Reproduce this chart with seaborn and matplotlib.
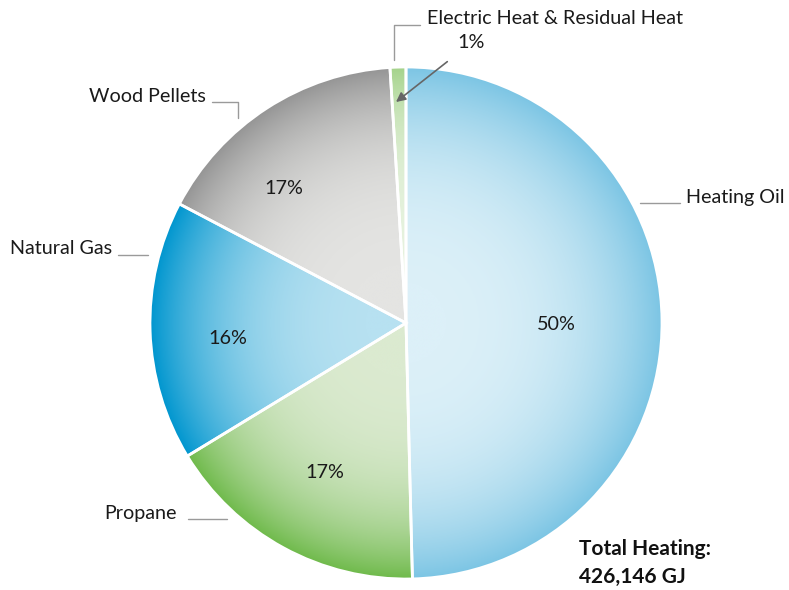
import numpy as np
import matplotlib
matplotlib.use("Agg")
import matplotlib.pyplot as plt
import seaborn as sns

# Heating energy mix (share of total)
sources = ["Heating Oil", "Propane", "Natural Gas", "Wood Pellets",
           "Electric Heat & Residual Heat"]
shares = [49.6, 16.7, 16.4, 16.3, 1.0]
pct_labels = ["50%", "17%", "16%", "17%", "1%"]
total_label = "Total Heating:\n426,146 GJ"

# light (centre) / dark (rim) colour per slice
light_cols = ["#dcf0f8", "#dbead0", "#b7e1f1", "#e4e4e2", "#e6f2de"]
dark_cols = ["#7cc5e4", "#6fba4b", "#0096cf", "#959595", "#a5d38b"]
gamma = [3.0, 3.6, 3.0, 3.8, 4.0]

sns.set_theme(style="white")
plt.rcParams["font.family"] = ["Lato", "DejaVu Sans"]

fig = plt.figure(figsize=(7.89, 5.90), dpi=100)
ax = fig.add_axes([0, 0, 1, 1])

cx, cy, R = 406, 323, 256
wedges, _ = ax.pie(shares, startangle=270, counterclock=True,
                   center=(cx, cy), radius=R,
                   wedgeprops=dict(edgecolor="white", linewidth=2))
ax.set_xlim(0, 789)
ax.set_ylim(590, 0)
ax.set_aspect("auto")
ax.axis("off")

# radial gradient fill for each slice
n = 600
xs = np.linspace(cx - R, cx + R, n)
ys = np.linspace(cy - R, cy + R, n)
gx, gy = np.meshgrid(xs, ys)
rr = np.clip(np.hypot(gx - cx, gy - cy) / R, 0, 1)
for w, lc, dc, g in zip(wedges, light_cols, dark_cols, gamma):
    cmap = sns.blend_palette([lc, dc], as_cmap=True)
    img = ax.imshow(rr ** g, cmap=cmap, vmin=0, vmax=1,
                    extent=(cx - R, cx + R, cy + R, cy - R),
                    interpolation="bilinear", zorder=2)
    img.set_clip_path(w)
    w.set_facecolor("none")
    w.set_zorder(3)
ax.set_xlim(0, 789)
ax.set_ylim(590, 0)

txt = "#1a1a1a"
line_c = "#9a9a9a"
fs = 14.2

# percentage labels inside slices
for lab, (x, y) in zip(pct_labels[:4], [(556, 325), (325, 472), (228, 339), (284, 188)]):
    ax.text(x, y, lab, ha="center", va="center", fontsize=fs, color=txt, zorder=5)

# outside labels with leader lines
ax.plot([640, 680], [203, 203], color=line_c, lw=1)
ax.text(686, 198, sources[0], ha="left", va="center", fontsize=fs, color=txt)

ax.plot([118, 148], [255, 255], color=line_c, lw=1)
ax.text(112, 248, sources[2], ha="right", va="center", fontsize=fs, color=txt)

ax.plot([188, 227], [519, 519], color=line_c, lw=1)
ax.text(177, 513, sources[1], ha="right", va="center", fontsize=fs, color=txt)

ax.plot([212, 238, 238], [102, 102, 118], color=line_c, lw=1)
ax.text(206, 97, sources[3], ha="right", va="center", fontsize=fs, color=txt)

ax.plot([420, 394, 394], [25, 25, 60], color=line_c, lw=1)
ax.text(427, 18, sources[4], ha="left", va="center", fontsize=fs, color=txt)
ax.annotate(pct_labels[4], xy=(396, 102), xytext=(471, 43),
            ha="center", va="center", fontsize=fs, color=txt,
            arrowprops=dict(arrowstyle="-|>", color="#666666", lw=1.2,
                            shrinkA=8, shrinkB=0, mutation_scale=14),
            zorder=6)

ax.text(579, 563, total_label, ha="left", va="center", fontsize=15,
        fontweight="bold", color="#111111", linespacing=1.45)

fig.savefig("out.png", dpi=100, facecolor="white")
